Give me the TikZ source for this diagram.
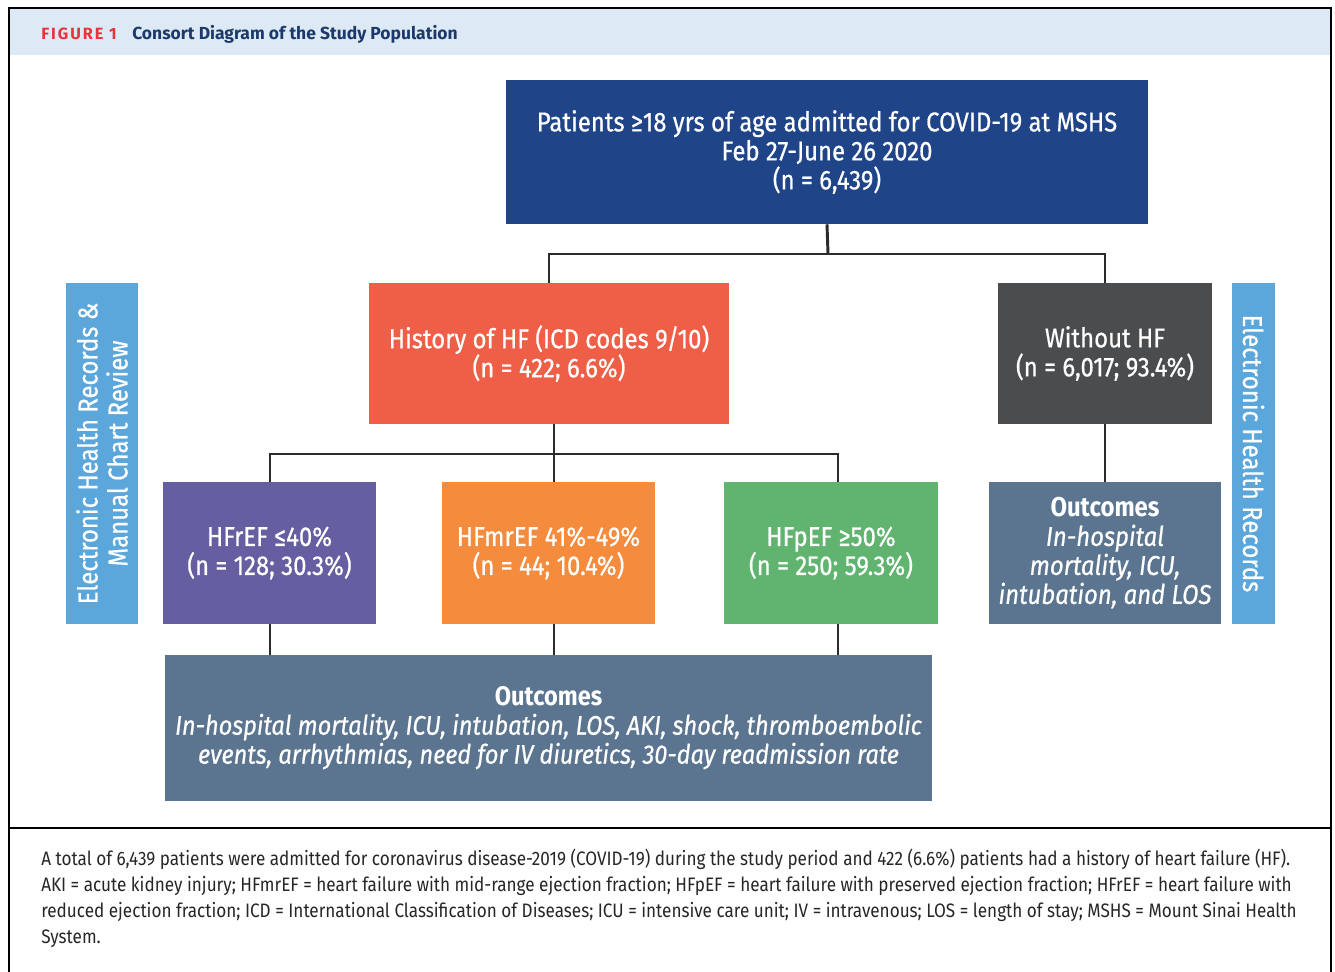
\documentclass[tikz,border=0pt]{standalone}
\usepackage{fontspec}
\setmainfont{Fira Sans}[FakeStretch=0.88]
\newfontfamily\boxfont{Fira Sans}[FakeStretch=0.88,UprightFeatures={FakeBold=0.6},ItalicFeatures={FakeBold=0.6}]
\newfontfamily\titlefont{Fira Sans}
\usetikzlibrary{fit}
\definecolor{navy}{HTML}{1F4488}
\definecolor{hfred}{HTML}{EF5E47}
\definecolor{dgray}{HTML}{4B4C4E}
\definecolor{sidebl}{HTML}{5BA6DA}
\definecolor{purp}{HTML}{655EA0}
\definecolor{oran}{HTML}{F48B3D}
\definecolor{gree}{HTML}{60B46F}
\definecolor{slate}{HTML}{5B7590}
\definecolor{hdr}{HTML}{DDE9F5}
\definecolor{figred}{HTML}{E8323C}
\definecolor{titblue}{HTML}{1B3A6B}
\definecolor{conn}{HTML}{2B2B2B}
\tikzset{
  box/.style={fill=#1, draw=none, inner sep=0pt},
  boxtext/.style={text=white, align=center, inner sep=0pt, anchor=center,
    font=\boxfont\fontsize{20.4}{21.75}\selectfont},
  sidebox/.style={fill=sidebl, draw=none, inner sep=0pt},
  sidetext/.style={text=white, align=center, inner sep=0pt,
    font=\boxfont\fontsize{20.4}{22.5}\selectfont},
  link/.style={draw=conn, line width=2.2pt},
}
\begin{document}
\begin{tikzpicture}[x=0.75pt,y=-0.75pt]
\useasboundingbox (0,0) rectangle (1335,971);
% frame and header
\fill[hdr] (9,8) rectangle (1331,55);
\draw[line width=1.5pt] (9,1000) -- (9,8) -- (1331,8) -- (1331,1000);
\draw[line width=1.5pt] (9,828) -- (1331,828);
\node[anchor=base west, inner sep=0pt, text=figred, font=\titlefont\fontsize{12.2}{14}\bfseries\addfontfeature{LetterSpace=12}] (figlab) at (41,39) {FIGURE 1};
\node[anchor=base west, inner sep=0pt, text=titblue, font=\titlefont\fontsize{13.1}{15}\bfseries] (figtitle) at (132,39) {Consort Diagram of the Study Population};

% boxes
\node[box=navy, fit={(506,80) (1148,224)}] (top) {};
\node[boxtext] (topt) at (top.center) {Patients ≥18 yrs of age admitted for COVID-19 at MSHS\\Feb 27-June 26 2020\\(n = 6,439)};
\node[box=hfred, fit={(369,283) (729,424)}] (hf) {};
\node[boxtext] (hft) at (hf.center) {History of HF (ICD codes 9/10)\\(n = 422; 6.6\%)};
\node[box=dgray, fit={(998,283) (1212,424)}] (nohf) {};
\node[boxtext] (nohft) at (nohf.center) {Without HF\\(n = 6,017; 93.4\%)};
\node[box=purp, fit={(163,482) (376,624)}] (ref) {};
\node[boxtext] (reft) at (ref.center) {HFrEF ≤40\%\\(n = 128; 30.3\%)};
\node[box=oran, fit={(442,482) (655,624)}] (mref) {};
\node[boxtext] (mreft) at (mref.center) {HFmrEF 41\%-49\%\\(n = 44; 10.4\%)};
\node[box=gree, fit={(724,482) (938,624)}] (pef) {};
\node[boxtext] (peft) at (pef.center) {HFpEF ≥50\%\\(n = 250; 59.3\%)};
\node[box=slate, fit={(989,482) (1221,624)}] (outr) {};
\node[boxtext] (outrt) at (outr.center) {\textbf{Outcomes}\\\textit{In-hospital}\\\textit{mortality, ICU,}\\\textit{intubation, and LOS}};
\node[box=slate, fit={(165,655) (932,801)}] (outl) {};
\node[boxtext, font=\boxfont\fontsize{20.1}{21.75}\selectfont] (outlt) at (outl.center) {\textbf{Outcomes}\\\textit{In-hospital mortality, ICU, intubation, LOS, AKI, shock, thromboembolic}\\\textit{events, arrhythmias, need for IV diuretics, 30-day readmission rate}};

% side bars
\node[sidebox, fit={(66,283) (138,624)}] (sidel) {};
\node[sidetext, rotate=90] (sidelt) at (sidel.center) {Electronic Health Records \&\\Manual Chart Review};
\node[sidebox, fit={(1232,283) (1275,624)}] (sider) {};
\node[sidetext, rotate=-90] (sidert) at (sider.center) {Electronic Health Records};

% connectors
\coordinate (j1) at (828,254);
\draw[link] (top.south) -- (j1);
\draw[link] (hf.north) |- (j1) -| (nohf.north);
\coordinate (j2) at (554,454);
\coordinate (c1) at (270,454);
\coordinate (c3) at (838,454);
\draw[link] (hf.south -| j2) -- (j2);
\draw[link] (c1 |- ref.north) -- (c1) -- (c3) -- (c3 |- pef.north);
\draw[link] (j2) -- (j2 |- mref.north);
\draw[link] (c1 |- ref.south) -- (c1 |- outl.north);
\draw[link] (j2 |- mref.south) -- (j2 |- outl.north);
\draw[link] (c3 |- pef.south) -- (c3 |- outl.north);
\draw[link] (nohf.south) -- (outr.north);

% footer
\node[anchor=north west, inner sep=0pt, align=left, text=black!85,
  font=\fontsize{14.6}{19.5}\selectfont] (foot) at (41,849) {A total of 6,439 patients were admitted for coronavirus disease-2019 (COVID-19) during the study period and 422 (6.6\%) patients had a history of heart failure (HF).\\
AKI = acute kidney injury; HFmrEF = heart failure with mid-range ejection fraction; HFpEF = heart failure with preserved ejection fraction; HFrEF = heart failure with\\
reduced ejection fraction; ICD = International Classification of Diseases; ICU = intensive care unit; IV = intravenous; LOS = length of stay; MSHS = Mount Sinai Health\\
System.};
\end{tikzpicture}
\end{document}
